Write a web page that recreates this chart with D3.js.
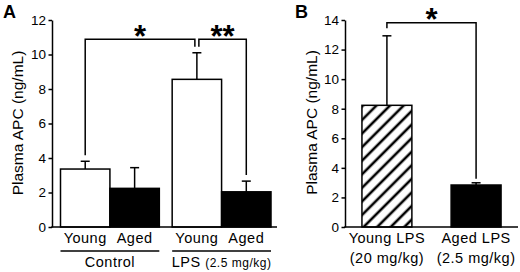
<!DOCTYPE html>
<html>
<head>
<meta charset="utf-8">
<script src="https://cdn.jsdelivr.net/npm/d3@7"></script>
<style>
  body { margin: 0; background: #fff; }
  svg { display: block; font-family: "Liberation Sans", Arial, sans-serif; }
  .bar { stroke: #000; stroke-width: 1.5; }
  .err, .bracket, .baseline, .under { stroke: #000; stroke-width: 1.5; fill: none; }
  .axis path, .axis line { stroke: #000; stroke-width: 1.5; }
  .axis text { font-size: 13.5px; fill: #000; font-family: "Liberation Sans", Arial, sans-serif; }
  .lbl { font-size: 14.5px; letter-spacing: 0.5px; }
  .ylab { font-size: 15.5px; }
  .star { font-size: 31px; font-weight: bold; }
  .panel { font-size: 18px; font-weight: bold; }
</style>
</head>
<body>
<div id="main"></div>
<script>
const W = 520;
const H = 272;

// Panel A
const groupsA = ["Control", "LPS"];
const agesA = ["Young", "Aged"];
const meansA = [[3.36, 2.24], [8.56, 2.04]];
const semA = [[0.45, 1.2], [1.54, 0.62]];
const fillsA = ["#fff", "#000"];
const ticksA = [0, 2, 4, 6, 8, 10, 12];
const compsA = [
    { a: ["Control", "Young"], b: ["LPS", "Young"], y: 10.88, mark: "*" },
    { a: ["LPS", "Young"], b: ["LPS", "Aged"], y: 10.88, mark: "**" }
];

// Panel B
const catsB = ["Young LPS", "Aged LPS"];
const dosesB = ["(20 mg/kg)", "(2.5 mg/kg)"];
const meansB = [8.23, 2.84];
const semB = [4.7, 0.15];
const ticksB = [0, 2, 4, 6, 8, 10, 12, 14];
const compsB = [{ a: "Young LPS", b: "Aged LPS", y: 13.82, mark: "*" }];

const yLabel = "Plasma APC (ng/mL)";

var svg = d3.select("#main").append("svg")
    .attr("width", W)
    .attr("height", H);

// hatch for the young LPS (20 mg/kg) bar
svg.append("defs").append("pattern")
    .attr("id", "hatch")
    .attr("patternUnits", "userSpaceOnUse")
    .attr("width", 9.6)
    .attr("height", 9.6)
    .attr("patternTransform", "rotate(45)")
    .call(p => {
        p.append("rect").attr("width", 9.6).attr("height", 9.6).attr("fill", "#fff");
        p.append("line").attr("x1", 4.8).attr("x2", 4.8).attr("y1", 0).attr("y2", 9.6)
            .attr("stroke", "#000").attr("stroke-width", 2.6);
    });

var errBar = function (g, cx, y0, y1) {
    g.append("line").attr("class", "err")
        .attr("x1", cx).attr("x2", cx).attr("y1", y0).attr("y2", y1);
    g.append("line").attr("class", "err")
        .attr("x1", cx - 4.5).attr("x2", cx + 4.5).attr("y1", y1).attr("y2", y1);
};

var bracket = function (g, x1, y1, x2, y2, yTop, mark) {
    g.append("path").attr("class", "bracket")
        .attr("d", `M${x1},${y1}V${yTop}H${x2}V${y2}`);
    g.append("text").attr("class", "star")
        .attr("x", (x1 + x2) / 2)
        .attr("y", yTop + 7.5)
        .attr("text-anchor", "middle")
        .text(mark);
};

var yAxis = function (g, y, ticks, x0, x1) {
    g.append("g").attr("class", "axis")
        .attr("transform", `translate(${x0},0)`)
        .call(d3.axisLeft(y).tickValues(ticks).tickSize(3.5).tickSizeOuter(0).tickPadding(2.5));
    g.append("line").attr("class", "baseline")
        .attr("x1", x0 - 0.75).attr("x2", x1).attr("y1", y(0)).attr("y2", y(0));
};

var yTitle = function (g, x, yc) {
    g.append("text").attr("class", "ylab")
        .attr("transform", `translate(${x},${yc}) rotate(-90)`)
        .attr("text-anchor", "middle")
        .text(yLabel);
};

// ---------- panel A ----------
var gA = svg.append("g");
var yA = d3.scaleLinear().domain([0, 12]).range([227, 20]);
var xA = d3.scaleBand().domain(groupsA).range([60.5, 271]).paddingInner(0.115);
var xIn = d3.scaleBand().domain(agesA).range([0, xA.bandwidth()]);
var cA = (gr, age) => xA(gr) + xIn(age) + xIn.bandwidth() / 2;

groupsA.forEach(function (gr, i) {
    agesA.forEach(function (age, j) {
        var x = xA(gr) + xIn(age);
        gA.append("rect").attr("class", "bar")
            .attr("x", x).attr("width", xIn.bandwidth())
            .attr("y", yA(meansA[i][j])).attr("height", yA(0) - yA(meansA[i][j]))
            .attr("fill", fillsA[j]);
        errBar(gA, cA(gr, age), yA(meansA[i][j]), yA(meansA[i][j] + semA[i][j]));
        gA.append("text").attr("class", "lbl")
            .attr("x", cA(gr, age)).attr("y", 243)
            .attr("text-anchor", "middle").text(age);
    });
    gA.append("line").attr("class", "under")
        .attr("x1", xA(gr)).attr("x2", xA(gr) + xA.bandwidth())
        .attr("y1", 251).attr("y2", 251);
});
yAxis(gA, yA, ticksA, 52, 277);

gA.append("text").attr("class", "lbl")
    .attr("x", xA("Control") + xA.bandwidth() / 2).attr("y", 266.5)
    .attr("text-anchor", "middle").text("Control");
gA.append("text").attr("class", "lbl")
    .attr("x", xA("LPS") + xA.bandwidth() / 2).attr("y", 266.5)
    .attr("text-anchor", "middle")
    .call(t => {
        t.append("tspan").text("LPS ");
        t.append("tspan").style("font-size", "12px").text("(2.5 mg/kg)");
    });

// a bar shared by two brackets gets its legs split apart
var shared = {};
compsA.forEach(c => [c.a, c.b].forEach(k => { shared[k] = (shared[k] || 0) + 1; }));
compsA.forEach(function (c) {
    var top = (k) => {
        var gi = groupsA.indexOf(k[0]), ai = agesA.indexOf(k[1]);
        return yA(meansA[gi][ai] + semA[gi][ai]) - 6;
    };
    var xa = cA(c.a[0], c.a[1]) + (shared[c.a] > 1 ? 2 : 0);
    var xb = cA(c.b[0], c.b[1]) - (shared[c.b] > 1 ? 2 : 0);
    bracket(gA, xa, top(c.a), xb, top(c.b), yA(c.y), c.mark);
});

yTitle(gA, 23, 123);
gA.append("text").attr("class", "panel").attr("x", 3).attr("y", 18).text("A");

// ---------- panel B ----------
var gB = svg.append("g");
var yB = d3.scaleLinear().domain([0, 14]).range([227, 20]);
var xB = d3.scaleBand().domain(catsB).range([345, 518]).paddingInner(0.44).paddingOuter(0.19);
var cB = (k) => xB(k) + xB.bandwidth() / 2;

catsB.forEach(function (k, i) {
    gB.append("rect").attr("class", "bar")
        .attr("x", xB(k)).attr("width", xB.bandwidth())
        .attr("y", yB(meansB[i])).attr("height", yB(0) - yB(meansB[i]))
        .attr("fill", i === 0 ? "url(#hatch)" : "#000");
    errBar(gB, cB(k), yB(meansB[i]), yB(meansB[i] + semB[i]));
    gB.append("text").attr("class", "lbl")
        .attr("x", cB(k)).attr("y", 243)
        .attr("text-anchor", "middle").text(k);
    gB.append("text").attr("class", "lbl")
        .attr("x", cB(k)).attr("y", 262.5)
        .attr("text-anchor", "middle").text(dosesB[i]);
});
yAxis(gB, yB, ticksB, 345, 518);

compsB.forEach(function (c) {
    var ia = catsB.indexOf(c.a), ib = catsB.indexOf(c.b);
    bracket(gB, cB(c.a), yB(meansB[ia] + semB[ia]) - 7.5,
        cB(c.b), yB(meansB[ib] + semB[ib]) - 4, yB(c.y), c.mark);
});

yTitle(gB, 316.5, 122.5);
gB.append("text").attr("class", "panel").attr("x", 295).attr("y", 18).text("B");
</script>
</body>
</html>
